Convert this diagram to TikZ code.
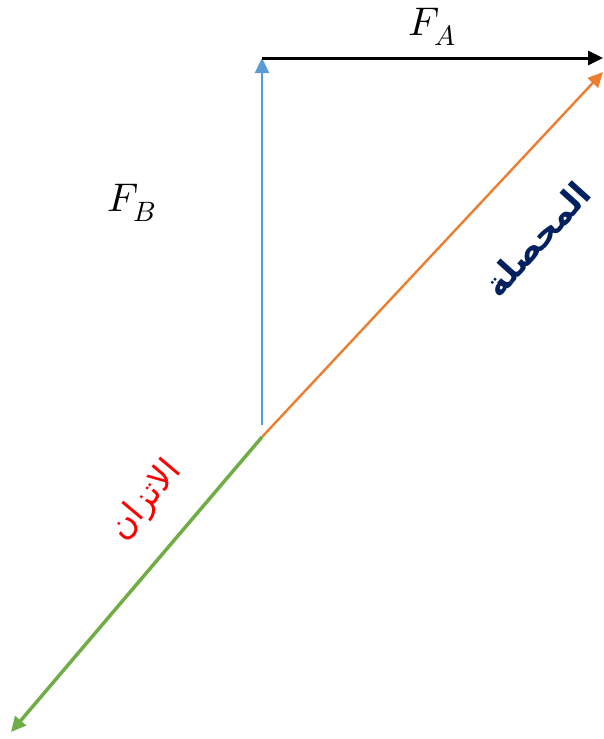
\documentclass[tikz,border=0pt]{standalone}
\usepackage{fontspec}
\usepackage{unicode-math}
\setmathfont{Latin Modern Math}
\usetikzlibrary{arrows.meta}
\newfontfamily\arabicfont[Script=Arabic]{DejaVu Sans}
\TeXXeTstate=1
\definecolor{vblue}{HTML}{5B9BD5}
\definecolor{vorange}{HTML}{ED7D31}
\definecolor{vgreen}{HTML}{70AD47}
\definecolor{navy}{HTML}{002060}
\tikzset{
  vec/.style={line width=#1, -{Triangle[length=15pt,width=14pt]}},
  lbl/.style={font=\fontsize{40}{44}\selectfont},
}
\begin{document}
\begin{tikzpicture}[x=1pt,y=-1pt]
\useasboundingbox (0,0) rectangle (603,739);
\coordinate (O) at (262,437);
\coordinate (Bs) at (262,425);
\coordinate (B) at (262,58);
\coordinate (A) at (603,58);
\coordinate (R) at (603,72);
\coordinate (E) at (11,732);
\draw[vec=2.4pt, vblue] (Bs) -- (B);
\draw[vec=3pt, black] (B) -- (A);
\draw[vec=2.4pt, vorange] (O) -- (R);
\draw[vec=3.5pt, vgreen] (O) -- (E);
\node[lbl] (fa) at (432,27) {$F_A$};
\node[lbl] (fb) at (132,203) {$F_B$};
\node[rotate=48, text=navy, font=\arabicfont\bfseries\fontsize{34}{40}\selectfont] (res) at (537,239) {\beginR المحصلة\endR};
\node[rotate=50, text=red, font=\arabicfont\fontsize{34}{38}\selectfont] (eq) at (146,501) {\beginR الاتزان\endR};
\end{tikzpicture}
\end{document}
